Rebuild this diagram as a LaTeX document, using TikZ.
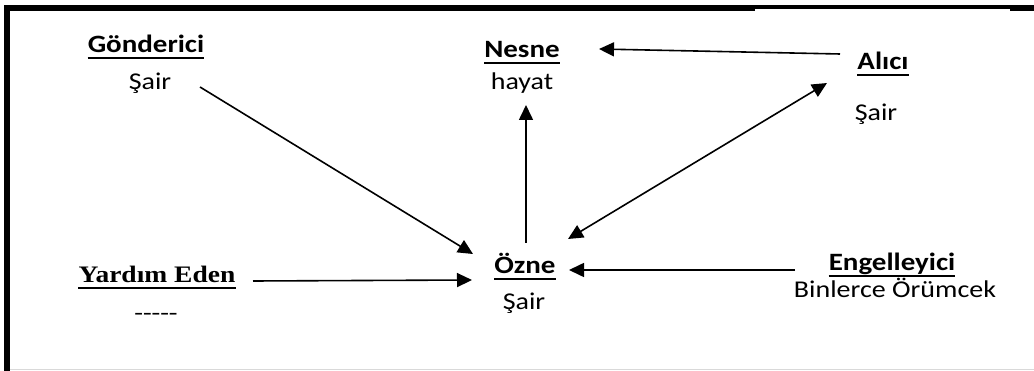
\documentclass[tikz,border=0pt]{standalone}
\usepackage{fontspec}
\setmainfont{Carlito}
\newfontfamily\cambriaish{Liberation Serif}
\usetikzlibrary{arrows.meta,calc}

\newcommand\squash[1]{\scalebox{1}[0.86]{#1}}

\tikzset{
  val/.style={inner sep=0pt, anchor=base, font=\fontsize{28}{34}\selectfont},
  ttl/.style={val, font=\fontsize{29}{35}\selectfont\bfseries},
  arr/.style={line width=1.6pt, -{Triangle[length=15pt,width=14pt]}},
}

\begin{document}
\begin{tikzpicture}[x=1pt,y=-1pt]
\useasboundingbox (0,0) rectangle (1034,371);

% frame
\fill (4,5) rectangle (10,371);
\fill (4,5) rectangle (755,11);
\fill (755,5) rectangle (1010,9);
\fill (1010,5) rectangle (1034,11);
\draw[black!15, line width=1pt] (10,370) -- (1034,370);

% actants
\node[ttl] (gonderici) at (146,53) {\squash{Gönderici}};
\node[val] (gondericiVal) at (150,90) {\squash{Şair}};
\node[ttl] (nesne) at (522,58) {\squash{Nesne}};
\node[val] (nesneVal) at (522,90) {\squash{hayat}};
\node[ttl] (alici) at (883,70) {\squash{Alıcı}};
\node[val] (aliciVal) at (876,121) {\squash{Şair}};
\node[ttl, font=\cambriaish\fontsize{27.5}{33}\selectfont\bfseries] (yardim) at (157,283) {\squash{Yardım Eden}};
\node[val, font=\cambriaish\fontsize{26}{31}\selectfont] (yardimVal) at (156,320) {\squash{-----}};
\node[ttl] (ozne) at (525,274) {\squash{Özne}};
\node[val] (ozneVal) at (524,310) {\squash{Şair}};
\node[ttl] (engel) at (892,271) {\squash{Engelleyici}};
\node[val] (engelVal) at (895,298) {\squash{Binlerce Örümcek}};

\foreach \n in {gonderici,nesne,alici,yardim,ozne,engel}
  \draw[line width=2pt] ([yshift=-5pt]\n.base west) -- ([yshift=-5pt]\n.base east);

% arrows
\draw[arr] ($(gondericiVal.base)+(50,-3)$) -- ($(ozne.base)+(-52,-20)$);
\draw[arr] ($(yardim.base)+(96,-2)$) -- ($(ozne.base)+(-53,6)$);
\draw[arr] ($(ozne.base)+(1,-31)$) -- ($(nesneVal.base)+(4,15)$);
\draw[arr] ($(alici.base)+(-43,-16)$) -- ($(nesne.base)+(77,-9)$);
\draw[arr, {Triangle[length=15pt,width=14pt]}-{Triangle[length=15pt,width=14pt]}] ($(ozne.base)+(43,-35)$) -- ($(alici.base)+(-56,13)$);
\draw[arr] ($(engel.base)+(-97,-1)$) -- ($(ozne.base)+(44,-4)$);

\end{tikzpicture}
\end{document}
